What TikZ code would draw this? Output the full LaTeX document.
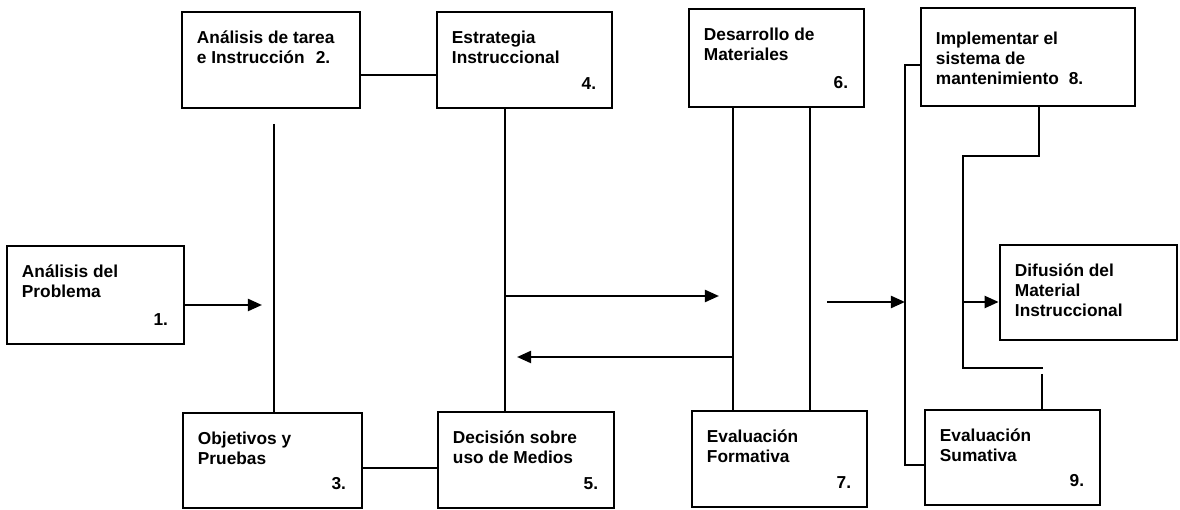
\documentclass[tikz,border=0pt]{standalone}
\usepackage{fontspec}
\setmainfont{Liberation Sans}
\usetikzlibrary{arrows.meta, positioning, fit}

\begin{document}
\begin{tikzpicture}[
        x=0.025cm, y=-0.025cm,
        caja/.style={draw, line width=1.9pt, inner sep=0pt},
        texto/.style={anchor=north west, align=left, inner sep=0pt,
            font=\bfseries\fontsize{12.3}{14.2}\selectfont},
        num/.style={anchor=base east, inner sep=0pt,
            font=\bfseries\fontsize{12.3}{14.2}\selectfont},
        linea/.style={line width=1.7pt},
        flecha/.style={linea, -{Triangle[length=10pt, width=8.5pt]}}
    ]
    \useasboundingbox (0,0) rectangle (1180,510);

    % cajas
    \foreach \Name/\L/\T/\R/\B in {b1/7/246/184/344, b2/182/12/360/108,
            b4/437/12/612/108, b6/689/9/864/107, b8/921/8/1135/106,
            dif/1000/245/1177/340, b3/183/413/362/508, b5/438/412/614/508,
            b7/692/411/867/507, b9/925/410/1100/505}
        \node[caja, fit={(\L,\T) (\R,\B)}] (\Name) {};

    \foreach \Name/\Dy/\Text in {b1/20/{Análisis del\\Problema},
            b2/20/{Análisis de tarea\\e Instrucción\hspace{8pt}2.},
            b4/20/{Estrategia\\Instruccional},
            b6/20/{Desarrollo de\\Materiales},
            b8/25/{Implementar el\\sistema de\\mantenimiento\hspace{7pt}8.},
            dif/20/{Difusión del\\Material\\Instruccional},
            b3/20/{Objetivos y\\Pruebas},
            b5/20/{Decisión sobre\\uso de Medios},
            b7/20/{Evaluación\\Formativa},
            b9/20/{Evaluación\\Sumativa}}
        \node[texto] (t\Name) at ([shift={(16,\Dy)}]\Name.north west) {\Text};

    \foreach \Name/\Num in {b1/1, b3/3, b4/4, b5/5, b6/6, b7/7, b9/9}
        \node[num] (n\Name) at ([shift={(-17,-20)}]\Name.south east) {\Num.};

    % conectores izquierda
    \coordinate (p1) at (262,305);
    \draw[flecha] (b1.east |- p1) -- (p1);

    \coordinate (e2) at (0,75);
    \coordinate (e3) at (0,468);
    \draw[linea] (b2.east |- e2) -- (b4.west |- e2);
    \draw[linea] (b3.east |- e3) -- (b5.west |- e3);

    \coordinate (v2) at (274,124);
    \draw[linea] (v2) -- (v2 |- b3.north);

    \coordinate (v4) at (505,0);
    \draw[linea] (b4.south -| v4) -- (b5.north -| v4);

    % conectores centro
    \coordinate (r1) at (505,296);
    \coordinate (r2) at (719,296);
    \coordinate (l1) at (732,357);
    \coordinate (l2) at (517,357);
    \draw[flecha] (r1) -- (r2);
    \draw[flecha] (l1) -- (l2);

    \coordinate (v6a) at (733,0);
    \coordinate (v6b) at (810,0);
    \foreach \V in {v6a, v6b}
        \draw[linea] (b6.south -| \V) -- (b7.north -| \V);

    \coordinate (s1) at (827,302);
    \coordinate (s2) at (905,302);
    \draw[flecha] (s1) -- (s2);

    % conectores derecha
    \coordinate (k1) at (905,65);
    \coordinate (k2) at (905,465);
    \draw[linea] (b8.west |- k1) -- (k1) -- (k2) -- (b9.west |- k2);

    \coordinate (m1) at (1039,156);
    \coordinate (m2) at (963,156);
    \coordinate (m3) at (963,368);
    \coordinate (m4) at (1043,368);
    \draw[linea] (b8.south -| m1) -- (m1) -- (m2) -- (m3) -- (m4);

    \coordinate (d1) at (963,302);
    \draw[flecha] (d1) -- (dif.west |- d1);

    \coordinate (q1) at (1042,374);
    \draw[linea] (q1) -- (q1 |- b9.north);
\end{tikzpicture}
\end{document}
